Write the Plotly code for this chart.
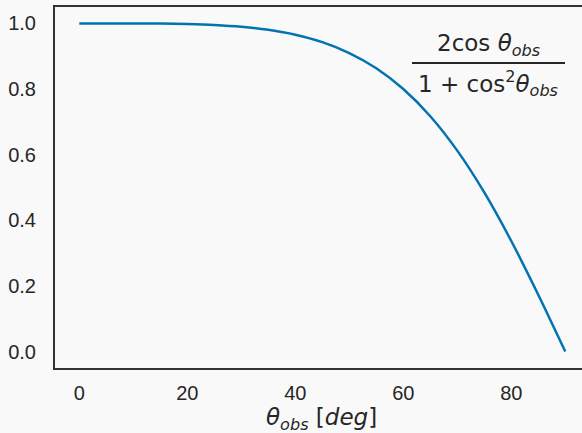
import plotly.graph_objects as go

theta_deg = [0, 5, 10, 15, 20, 25, 30, 35, 40, 45, 50, 55, 60, 65, 70, 75, 80, 85, 90]
ratio = [1.0, 1.0, 0.9999, 0.9994, 0.9981, 0.9952, 0.9897, 0.9804, 0.9655, 0.9428,
         0.9097, 0.8632, 0.8, 0.7172, 0.6124, 0.4851, 0.3371, 0.1730, 0.0]
x_ticks = [0, 20, 40, 60, 80]
y_ticks = [0.0, 0.2, 0.4, 0.6, 0.8, 1.0]
y_tick_text = ["0.0", "0.2", "0.4", "0.6", "0.8", "1.0"]

bg = "#f9f9f9"
ink = "#262626"

fig = go.Figure()
fig.add_trace(go.Scatter(
    x=theta_deg, y=ratio, mode="lines",
    line=dict(color="#0173b2", width=2.5, shape="spline", smoothing=0.6),
    showlegend=False, hoverinfo="skip",
))

fig.update_layout(
    width=582, height=433,
    margin=dict(l=55, r=0, t=7, b=65),
    paper_bgcolor=bg, plot_bgcolor=bg,
    font=dict(family="Liberation Sans", size=20, color=ink),
    xaxis=dict(
        range=[-4.5, 93.1], tickvals=x_ticks, showgrid=False, zeroline=False,
        showline=True, linecolor="#333333", linewidth=2, mirror=True,
        ticks="outside", ticklen=6, tickcolor="rgba(0,0,0,0)",
        tickfont=dict(family="Liberation Sans", size=20, color=ink),
    ),
    yaxis=dict(
        range=[-0.05, 1.05], tickvals=y_ticks, ticktext=y_tick_text,
        showgrid=False, zeroline=False,
        showline=True, linecolor="#333333", linewidth=2, mirror=False,
        ticks="outside", ticklen=13, tickcolor="rgba(0,0,0,0)",
        tickfont=dict(family="Liberation Sans", size=20, color=ink),
    ),
)

math_font = dict(family="DejaVu Sans", size=23, color=ink)

# x-axis title
fig.add_annotation(
    xref="paper", yref="paper", x=(321 - 55) / 527, y=(368 - 419) / 361,
    xanchor="center", yanchor="middle",
    text="<i>θ<sub>obs</sub></i> [<i>deg</i>]", showarrow=False,
    font=dict(family="DejaVu Sans", size=23, color=ink),
)

# formula: numerator, bar, denominator
fig.add_annotation(
    xref="paper", yref="paper", x=(489 - 55) / 527, y=1 - (45 - 7) / 361,
    xanchor="center", yanchor="middle",
    text="2cos <i>θ<sub>obs</sub></i>", showarrow=False, font=math_font,
)
fig.add_shape(
    type="line", xref="paper", yref="paper",
    x0=(412 - 55) / 527, x1=(565 - 55) / 527,
    y0=1 - (63 - 7) / 361, y1=1 - (63 - 7) / 361,
    line=dict(color=ink, width=2),
)
fig.add_annotation(
    xref="paper", yref="paper", x=(488 - 55) / 527, y=1 - (84 - 7) / 361,
    xanchor="center", yanchor="middle",
    text="1 + cos<sup>2</sup><i>θ<sub>obs</sub></i>", showarrow=False, font=math_font,
)

fig.write_html("out.html")
